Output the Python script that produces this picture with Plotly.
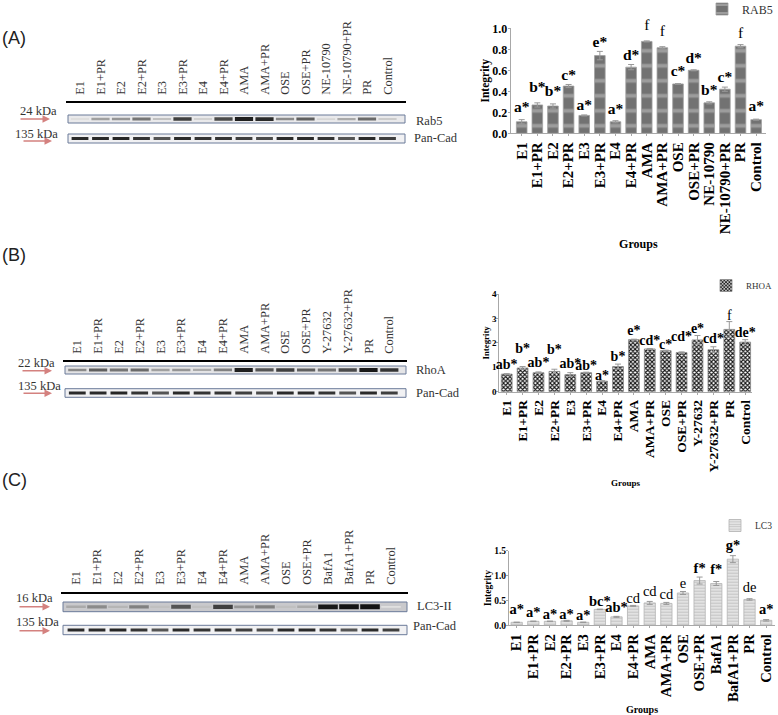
import plotly.graph_objects as go

W, H = 778, 715

# ---------- bar chart data ----------
groups_a = ["E1","E1+PR","E2","E2+PR","E3","E3+PR","E4","E4+PR","AMA","AMA+PR","OSE","OSE+PR","NE-10790","NE-10790+PR","PR","Control"]
values_a = [0.11,0.27,0.26,0.45,0.17,0.74,0.11,0.63,0.875,0.815,0.47,0.60,0.29,0.42,0.83,0.13]
errors_a = [0.02,0.02,0.02,0.015,0.005,0.04,0.01,0.025,0.005,0.01,0.003,0.005,0.01,0.02,0.015,0.005]
letters_a = ["a*","b*","b*","c*","a*","e*","a*","d*","f","f","c*","d*","b*","c*","f","a*"]
letter_y_a = [0.238,0.429,0.39,0.546,0.26,0.857,0.222,0.737,1.016,0.962,0.578,0.708,0.406,0.53,0.946,0.248]

groups_b = ["E1","E1+PR","E2","E2+PR","E3","E3+PR","E4","E4+PR","AMA","AMA+PR","OSE","OSE+PR","Y-27632","Y-27632+PR","PR","Control"]
values_b = [0.72,0.97,0.78,0.83,0.70,0.78,0.43,1.03,2.13,1.75,1.68,1.60,2.12,1.72,2.55,2.03]
errors_b = [0.02,0.06,0.03,0.09,0.08,0.02,0.02,0.10,0.02,0.02,0.02,0.03,0.18,0.12,0.32,0.10]
letters_b = ["ab*","b*","ab*","b*","ab*","ab*","a*","b*","e*","cd*","c*","cd*","e*","cd*","f","de*"]
letter_y_b = [1.09,1.73,1.16,1.67,1.12,1.02,0.64,1.41,2.46,2.05,1.88,2.23,2.55,2.14,3.07,2.39]

groups_c = ["E1","E1+PR","E2","E2+PR","E3","E3+PR","E4","E4+PR","AMA","AMA+PR","OSE","OSE+PR","BafA1","BafA1+PR","PR","Control"]
values_c = [0.06,0.08,0.08,0.09,0.06,0.32,0.17,0.39,0.45,0.44,0.65,0.90,0.84,1.33,0.52,0.10]
errors_c = [0.003,0.005,0.005,0.01,0.005,0.005,0.01,0.01,0.03,0.02,0.03,0.07,0.04,0.07,0.015,0.015]
letters_c = ["a*","a*","a*","a*","a*","bc*","ab*","cd","cd","cd","e","f*","f*","g*","de","a*"]
letter_y_c = [0.295,0.24,0.194,0.194,0.174,0.462,0.335,0.53,0.656,0.596,0.817,1.132,1.098,1.594,0.743,0.295]

# ---------- blot band darkness per lane (0 = none, 1 = black) ----------
band_rab5 = [0.08,0.35,0.40,0.55,0.20,0.80,0.12,0.75,0.95,0.90,0.45,0.65,0.10,0.30,0.60,0.15]
band_rhoa = [0.45,0.65,0.55,0.60,0.35,0.40,0.30,0.50,0.95,0.70,0.80,0.65,0.55,0.75,0.98,0.85]
band_lc3  = [0.30,0.45,0.25,0.50,0.20,0.70,0.20,0.80,0.40,0.50,0.20,0.30,0.98,1.00,1.00,0.05]
band_pancad = [0.90,0.90,0.92,0.85,0.70,0.90,0.85,0.85,0.80,0.75,0.90,0.90,0.85,0.70,0.90,0.80]

SERIF = "Liberation Serif"
SANS = "Liberation Sans"
REGULAR_LETTERS = ("f", "e", "de", "cd")


def px_x(x):
    return x / W


def px_y(y):
    return 1 - y / H


fig = go.Figure()
annotations, shapes = [], []
layout = {}


def bar_panel(idx, name, groups, values, errors, letters, letter_y, left, right, first, step, top, base, ymax, dtick,
              pattern, line_color, tick_size, title_size, group_size, letter_size, label_size, standoff_x, standoff_y,
              legend_xy, legend_size):
    fig.add_bar(
        x=groups, y=values, name=name, xaxis=f"x{idx}", yaxis=f"y{idx}", width=0.68,
        marker=dict(pattern=pattern, line=dict(color=line_color, width=0.8)),
        error_y=dict(type="data", array=errors, symmetric=True, color="#999999", thickness=1, width=3),
        legend="legend" if idx == 1 else f"legend{idx}", showlegend=True,
    )
    lo = (left - first) / step
    hi = (right - first) / step
    layout[f"xaxis{idx}"] = dict(
        domain=[px_x(left), px_x(right)], range=[lo, hi], anchor=f"y{idx}", type="category",
        categoryorder="array", categoryarray=groups, tickangle=-90, tickmode="array", tickvals=groups, ticktext=groups,
        showgrid=False, zeroline=False, showline=True, linecolor="#a8a8a8", linewidth=1,
        ticks="outside", ticklen=2, tickcolor="#a8a8a8",
        tickfont=dict(family=SERIF, size=label_size, color="black", weight="bold"),
        title=dict(text="<b>Groups</b>", font=dict(family=SERIF, size=group_size, color="black"), standoff=standoff_x),
    )
    layout[f"yaxis{idx}"] = dict(
        domain=[px_y(base), px_y(top)], range=[0, ymax], anchor=f"x{idx}", dtick=dtick,
        showgrid=False, zeroline=False, showline=True, linecolor="#a8a8a8", linewidth=1,
        ticks="outside", ticklen=2, tickcolor="#a8a8a8", ticklabelstandoff=-2,
        tickformat=".1f" if dtick < 1 else "d",
        tickfont=dict(family=SERIF, size=tick_size, color="black", weight="bold"),
        title=dict(text="<b>Integrity</b>", font=dict(family=SERIF, size=title_size, color="black"), standoff=standoff_y),
    )
    # letters sit on a hidden pair of axes with the same scale that reaches a little higher,
    # because some letters stand above the top tick of the visible axis
    room = 25
    letter_axis = idx + 6
    layout[f"xaxis{letter_axis}"] = dict(
        domain=[px_x(left), px_x(right)], range=[lo, hi], anchor=f"y{letter_axis}", type="category",
        categoryorder="array", categoryarray=groups, visible=False,
    )
    layout[f"yaxis{letter_axis}"] = dict(
        domain=[px_y(base), px_y(top - room)], range=[0, ymax * (base - top + room) / (base - top)],
        anchor=f"x{letter_axis}", visible=False,
    )
    fig.add_scatter(
        x=groups, y=letter_y, xaxis=f"x{letter_axis}", yaxis=f"y{letter_axis}", mode="text", showlegend=False,
        cliponaxis=False, hoverinfo="skip", textposition="middle center",
        text=[t if t in REGULAR_LETTERS else f"<b>{t}</b>" for t in letters],
        textfont=dict(family=SERIF, size=letter_size, color="black"),
    )
    key = "legend" if idx == 1 else f"legend{idx}"
    layout[key] = dict(
        x=px_x(legend_xy[0]), y=px_y(legend_xy[1]), xanchor="right", yanchor="middle",
        bgcolor="rgba(0,0,0,0)", borderwidth=0, itemwidth=30, tracegroupgap=0,
        font=dict(family=SERIF, size=legend_size, color="#333333"),
    )


bar_panel(1, "RAB5", groups_a, values_a, errors_a, letters_a, letter_y_a, 510.7, 766, 521.7, 15.63, 28.3, 133.3, 1.0, 0.2,
          dict(shape="-", size=15, solidity=0.25, fgcolor="#9c9c9c", bgcolor="#727272", fillmode="replace"), "#a0a0a0",
          12, 11.5, 12, 15.5, 15, 6, 0, (778, 9), 12)
bar_panel(2, "RHOA", groups_b, values_b, errors_b, letters_b, letter_y_b, 499.3, 751.7, 506.7, 15.9, 294, 391.7, 4, 1,
          dict(shape="x", size=3, solidity=0.6, fgcolor="#151515", bgcolor="#ffffff", fillmode="replace"), "#888888",
          9, 8.8, 9, 14, 13.5, 8, 0, (778, 285.5), 9)
bar_panel(3, "LC3", groups_c, values_c, errors_c, letters_c, letter_y_c, 509, 775, 516.7, 16.63, 550.7, 625.3, 1.5, 0.5,
          dict(shape="-", size=3, solidity=0.35, fgcolor="#c4c4c4", bgcolor="#e2e2e2", fillmode="replace"), "#b4b4b4",
          9.5, 9.5, 10, 14.5, 14.7, 8, 0, (778, 525.5), 9.5)


def gray(d):
    v = int(round(235 - 215 * d))
    return f"rgb({v},{v},{v})"


def blot_panel(idx, groups, band, band_name, band_w, band_h, left, right, first, step, line_y, tb, pb, label_bottom,
               top_kda, kda_y, kda_x, arrow_x, arrow_y, pan_kda_x, pan_kda_y, pan_arrow_x, pan_arrow_y,
               name_x, name_y, pan_x, pan_y, target_bg):
    ax = idx + 3
    bottom = pb[1]
    lo = (left - first) / step
    hi = (right - first) / step
    layout[f"xaxis{ax}"] = dict(
        domain=[px_x(left), px_x(right)], range=[lo, hi], anchor=f"y{ax}", side="top",
        tickmode="array", tickvals=list(range(16)), ticktext=groups, tickangle=-90, ticks="",
        ticklabelstandoff=max(int(line_y - label_bottom) - 2, 0),
        showgrid=False, zeroline=False, showline=True, linecolor="black", linewidth=2,
        tickfont=dict(family=SERIF, size=12.4, color="#333333"),
    )
    layout[f"yaxis{ax}"] = dict(
        domain=[px_y(bottom), px_y(line_y)], range=[bottom, line_y], anchor=f"x{ax}", visible=False,
    )
    for (y0, y1), bg in ((tb, target_bg), (pb, "#f1f1f3")):
        shapes.append(dict(type="rect", xref="paper", yref="paper", x0=px_x(left + 2), x1=px_x(right - 1),
                           y0=px_y(y0), y1=px_y(y1), line=dict(color="#6b7a99", width=1), fillcolor=bg, layer="below"))
    lanes = list(range(16))
    fig.add_scatter(
        x=lanes, y=[(tb[0] + tb[1]) / 2] * 16, xaxis=f"x{ax}", yaxis=f"y{ax}", mode="markers", showlegend=False,
        hoverinfo="skip", name=band_name,
        marker=dict(symbol="line-ew", size=band_w, color=[gray(d) for d in band],
                    line=dict(color=[gray(d) for d in band], width=[1.5 + band_h * d for d in band])),
    )
    fig.add_scatter(
        x=lanes, y=[(pb[0] + pb[1]) / 2] * 16, xaxis=f"x{ax}", yaxis=f"y{ax}", mode="markers", showlegend=False,
        hoverinfo="skip", name="Pan-Cad",
        marker=dict(symbol="line-ew", size=12, color=[gray(d) for d in band_pancad],
                    line=dict(color=[gray(d) for d in band_pancad], width=2.8)),
    )

    def text(x, y, s, anchor="left"):
        annotations.append(dict(x=px_x(x), y=px_y(y), xref="paper", yref="paper", text=s, showarrow=False,
                                xanchor=anchor, yanchor="middle",
                                font=dict(family=SERIF, size=12.5, color="#333333")))

    def arrow(xs, y):
        annotations.append(dict(x=px_x(xs[1]), y=px_y(y), ax=xs[0] - xs[1], ay=0, xref="paper", yref="paper",
                                axref="pixel", ayref="pixel", text="", showarrow=True, arrowhead=2, arrowsize=1,
                                arrowwidth=1.5, arrowcolor="#d4817f"))

    text(kda_x, kda_y, top_kda, "center")
    text(pan_kda_x, pan_kda_y, "135 kDa", "center")
    arrow(arrow_x, arrow_y)
    arrow(pan_arrow_x, pan_arrow_y)
    text(name_x - 2, name_y, band_name)
    text(pan_x - 2, pan_y, "Pan-Cad")


blot_panel(1, groups_a, band_rab5, "Rab5", 13, 2.5, 66, 406, 80, 20.5, 103.3, (115, 123), (134, 143), 96.7,
           "24 kDa", 111, 38, (19, 50), 119, 36, 134, (22, 52), 141, 416, 121, 414, 138.3, "#e9e9eb")
blot_panel(2, groups_b, band_rhoa, "RhoA", 13, 2.5, 63, 407, 77.3, 20.8, 362.3, (366, 374), (388.7, 397.3), 356,
           "22 kDa", 362.7, 36, (21, 52), 370.7, 39, 386, (22, 52), 393.3, 416, 370, 416, 392.7, "#e4e4e6")
blot_panel(3, groups_c, band_lc3, "LC3-II", 14, 3.5, 61, 408, 76, 21, 594.3, (602, 611.7), (625.3, 634.7), 587,
           "16 kDa", 598, 34, (18, 50), 606.7, 37, 622, (18, 50), 630.7, 417, 606, 413, 625.7, "#c9c9cc")

for lab, y in (("(A)", 38), ("(B)", 255), ("(C)", 480)):
    annotations.append(dict(x=0, y=px_y(y), xref="paper", yref="paper", text=lab, showarrow=False, xanchor="left",
                            yanchor="middle", font=dict(family=SANS, size=18, color="#222222")))

fig.update_layout(
    width=W, height=H, autosize=False, margin=dict(l=0, r=0, t=0, b=0, pad=0, autoexpand=False),
    paper_bgcolor="white", plot_bgcolor="rgba(0,0,0,0)",
    barmode="overlay", annotations=annotations, shapes=shapes, **layout,
)
fig.write_html("out.html", config={"displayModeBar": False},
               post_script="document.body.style.margin='0';document.documentElement.style.overflow='hidden';")
